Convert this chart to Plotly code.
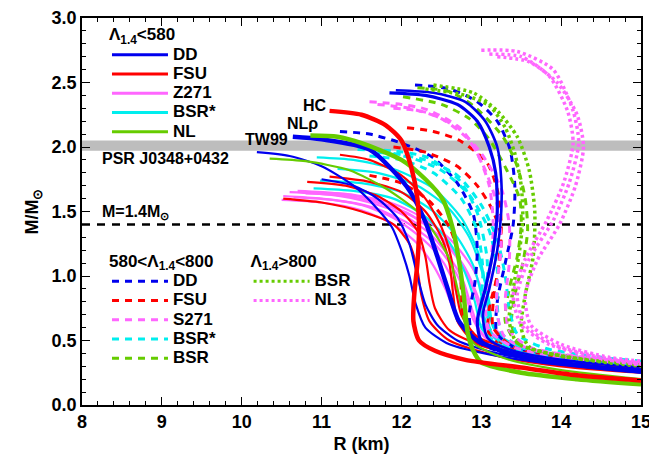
import plotly.graph_objects as go

# ---------------- data: (R [km], M [Msun]) ----------------
# Lambda_1.4 < 580  (solid lines)
DD_TW99 = ([10.64, 11.0, 11.6, 12.07, 12.3, 12.45, 12.58, 12.72, 12.95, 13.5, 14.2, 15.0],
           [2.08, 2.06, 1.98, 1.69, 1.42, 1.15, 0.9, 0.65, 0.5, 0.38, 0.31, 0.26])
DD_s2 = ([10.19, 10.6, 11.0, 11.4, 11.7, 11.88, 12.0, 12.1, 12.18, 12.3, 12.6, 13.2, 14.0, 15.0],
         [1.96, 1.93, 1.85, 1.7, 1.52, 1.38, 1.2, 1.0, 0.78, 0.6, 0.47, 0.38, 0.31, 0.25])
DD_s3 = ([11.0, 11.4, 11.7, 11.95, 12.1, 12.2, 12.3, 12.45, 12.7, 13.2, 14.0, 15.0],
         [1.75, 1.7, 1.6, 1.45, 1.25, 1.0, 0.78, 0.62, 0.5, 0.4, 0.32, 0.26])
DD_s4 = ([11.85, 12.3, 12.7, 12.95, 13.1, 13.18, 13.2, 13.15, 13.05, 12.95, 13.0, 13.3, 14.0, 15.0],
         [2.42, 2.4, 2.33, 2.2, 2.0, 1.8, 1.5, 1.2, 0.9, 0.65, 0.5, 0.4, 0.32, 0.27])
DD_s5 = ([11.93, 12.4, 12.8, 13.05, 13.2, 13.25, 13.25, 13.2, 13.1, 13.02, 13.08, 13.4, 14.0, 15.0],
         [2.44, 2.42, 2.35, 2.2, 2.0, 1.75, 1.5, 1.2, 0.9, 0.7, 0.52, 0.42, 0.35, 0.29])

FSU_HC = ([11.1, 11.5, 11.8, 12.0, 12.12, 12.2, 12.22, 12.2, 12.16, 12.15, 12.22, 12.42, 12.8, 13.5, 14.2, 15.0],
          [2.28, 2.25, 2.17, 2.05, 1.85, 1.6, 1.35, 1.1, 0.85, 0.65, 0.5, 0.42, 0.35, 0.29, 0.23, 0.19])
FSU_s2 = ([10.52, 11.0, 11.5, 11.9, 12.1, 12.2, 12.25, 12.35, 12.6, 13.2, 14.0, 15.0],
          [1.6, 1.57, 1.5, 1.4, 1.25, 1.05, 0.85, 0.65, 0.5, 0.38, 0.3, 0.25])
FSU_s3 = ([10.82, 11.3, 11.7, 12.0, 12.2, 12.3, 12.35, 12.42, 12.6, 13.0, 13.8, 15.0],
          [1.73, 1.7, 1.62, 1.5, 1.35, 1.15, 0.95, 0.75, 0.58, 0.46, 0.36, 0.28])
FSU_s4 = ([11.1, 11.6, 12.0, 12.3, 12.5, 12.6, 12.65, 12.7, 12.9, 13.5, 15.0],
          [1.77, 1.73, 1.65, 1.5, 1.3, 1.1, 0.85, 0.65, 0.5, 0.4, 0.3])
FSU_s5 = ([11.23, 11.6, 12.0, 12.3, 12.5, 12.62, 12.68, 12.75, 12.95, 13.5, 15.0],
          [1.94, 1.9, 1.78, 1.6, 1.38, 1.15, 0.9, 0.7, 0.53, 0.42, 0.32])

Z271_1 = ([10.52, 11.0, 11.5, 11.9, 12.2, 12.45, 12.62, 12.72, 12.82, 13.0, 13.5, 14.3, 15.0],
          [1.62, 1.6, 1.55, 1.45, 1.32, 1.17, 1.0, 0.8, 0.62, 0.48, 0.38, 0.31, 0.27])
Z271_2 = ([10.6, 11.1, 11.6, 12.0, 12.35, 12.6, 12.78, 12.88, 12.98, 13.2, 13.8, 15.0],
          [1.65, 1.63, 1.57, 1.48, 1.33, 1.15, 0.95, 0.75, 0.58, 0.46, 0.37, 0.29])
Z271_3 = ([10.7, 11.2, 11.7, 12.1, 12.45, 12.72, 12.9, 13.0, 13.12, 13.5, 14.3, 15.0],
          [1.66, 1.64, 1.58, 1.48, 1.32, 1.12, 0.9, 0.7, 0.54, 0.42, 0.35, 0.31])
Z271_4 = ([10.8, 11.3, 11.8, 12.2, 12.55, 12.8, 12.95, 13.05, 13.2, 13.6, 15.0],
          [1.64, 1.62, 1.55, 1.44, 1.27, 1.06, 0.85, 0.66, 0.51, 0.41, 0.32])
Z271_5 = ([10.5, 11.0, 11.5, 11.9, 12.2, 12.4, 12.55, 12.68, 12.85, 13.3, 14.2, 15.0],
          [1.59, 1.57, 1.51, 1.4, 1.25, 1.08, 0.9, 0.7, 0.54, 0.42, 0.33, 0.28])
Z271_6 = ([10.9, 11.4, 11.9, 12.3, 12.65, 12.9, 13.05, 13.15, 13.35, 13.9, 15.0],
          [1.65, 1.63, 1.56, 1.44, 1.26, 1.05, 0.82, 0.62, 0.48, 0.39, 0.33])
Z271_7 = ([10.65, 11.15, 11.65, 12.05, 12.4, 12.65, 12.8, 12.9, 13.05, 13.5, 15.0],
          [1.61, 1.59, 1.53, 1.42, 1.26, 1.06, 0.86, 0.66, 0.52, 0.41, 0.3])

BSRs_1 = ([10.94, 11.4, 11.9, 12.4, 12.75, 12.95, 13.05, 13.1, 13.2, 13.6, 14.3, 15.0],
          [1.92, 1.9, 1.83, 1.68, 1.45, 1.2, 0.95, 0.72, 0.55, 0.43, 0.35, 0.31])
BSRs_2 = ([10.98, 11.5, 12.0, 12.4, 12.7, 12.9, 13.0, 13.05, 13.2, 13.6, 14.3, 15.0],
          [1.74, 1.72, 1.65, 1.5, 1.3, 1.08, 0.85, 0.65, 0.5, 0.41, 0.34, 0.3])
BSRs_3 = ([10.9, 11.4, 11.9, 12.3, 12.6, 12.8, 12.92, 13.0, 13.2, 13.7, 15.0],
          [1.68, 1.66, 1.6, 1.46, 1.26, 1.02, 0.8, 0.6, 0.47, 0.38, 0.28])
BSRs_4 = ([11.2, 11.7, 12.2, 12.6, 12.85, 13.0, 13.1, 13.15, 13.4, 14.0, 15.0],
          [1.83, 1.8, 1.7, 1.52, 1.3, 1.05, 0.8, 0.6, 0.46, 0.38, 0.32])

NL_rho = ([10.86, 11.2, 11.5, 12.0, 12.3, 12.52, 12.65, 12.72, 12.78, 12.83, 12.9, 13.0, 13.5, 14.2, 15.0],
          [2.09, 2.08, 2.03, 1.9, 1.75, 1.59, 1.35, 1.12, 0.85, 0.56, 0.42, 0.33, 0.25, 0.2, 0.16])
NL_s2 = ([10.35, 10.8, 11.35, 11.8, 12.2, 12.45, 12.62, 12.72, 12.8, 12.9, 13.3, 14.0, 15.0],
         [1.91, 1.89, 1.82, 1.68, 1.5, 1.3, 1.1, 0.85, 0.62, 0.48, 0.36, 0.27, 0.2])

# 580 < Lambda_1.4 < 800  (dashed lines)
DD_d1 = ([11.23, 11.6, 12.0, 12.39, 12.7, 12.9, 12.95, 12.92, 12.85, 12.9, 13.2, 14.0, 15.0],
         [2.12, 2.1, 2.03, 1.92, 1.72, 1.48, 1.2, 0.95, 0.7, 0.52, 0.42, 0.34, 0.28])
DD_d2 = ([12.17, 12.6, 12.95, 13.2, 13.36, 13.42, 13.4, 13.3, 13.2, 13.2, 13.5, 14.2, 15.0],
         [2.48, 2.45, 2.35, 2.2, 1.98, 1.7, 1.4, 1.1, 0.8, 0.55, 0.42, 0.35, 0.3])

FSU_d1 = ([12.07, 12.4, 12.73, 13.07, 13.2, 13.25, 13.22, 13.15, 13.15, 13.4, 14.0, 15.0],
          [2.15, 2.12, 2.05, 1.88, 1.67, 1.4, 1.1, 0.8, 0.6, 0.45, 0.37, 0.3])
FSU_d2 = ([11.9, 12.3, 12.7, 12.95, 13.15, 13.25, 13.2, 13.1, 13.1, 13.4, 14.0, 15.0],
          [2.0, 1.96, 1.85, 1.7, 1.5, 1.3, 1.0, 0.75, 0.55, 0.42, 0.35, 0.29])
FSU_d3 = ([11.6, 12.0, 12.35, 12.6, 12.72, 12.75, 12.78, 12.95, 13.5, 15.0],
          [1.78, 1.72, 1.58, 1.38, 1.15, 0.9, 0.68, 0.52, 0.41, 0.3])

S271_d1 = ([11.6, 12.0, 12.32, 12.73, 12.95, 13.1, 13.15, 13.12, 13.05, 13.1, 13.4, 14.0, 15.0],
           [2.35, 2.33, 2.29, 2.15, 1.95, 1.7, 1.4, 1.1, 0.8, 0.58, 0.45, 0.37, 0.31])
S271_d2 = ([11.7, 12.1, 12.5, 12.85, 13.05, 13.2, 13.25, 13.2, 13.2, 13.3, 13.7, 15.0],
           [2.33, 2.3, 2.22, 2.05, 1.82, 1.55, 1.25, 0.95, 0.7, 0.52, 0.42, 0.32])
S271_d3 = ([11.9, 12.3, 12.7, 13.0, 13.25, 13.35, 13.35, 13.3, 13.35, 13.6, 14.3, 15.0],
           [2.3, 2.27, 2.15, 1.95, 1.68, 1.4, 1.1, 0.8, 0.58, 0.45, 0.37, 0.33])

BSRs_d1 = ([11.45, 11.9, 12.32, 12.73, 12.95, 13.07, 13.08, 13.1, 13.3, 14.0, 15.0],
           [1.98, 1.97, 1.92, 1.74, 1.49, 1.15, 0.85, 0.6, 0.46, 0.36, 0.3])
BSRs_d2 = ([11.7, 12.1, 12.5, 12.86, 13.1, 13.2, 13.2, 13.25, 13.5, 14.2, 15.0],
           [1.96, 1.92, 1.82, 1.62, 1.35, 1.05, 0.78, 0.56, 0.45, 0.37, 0.32])
BSRs_d3 = ([11.9, 12.3, 12.7, 13.0, 13.2, 13.3, 13.35, 13.45, 13.8, 14.5, 15.0],
           [1.95, 1.9, 1.78, 1.55, 1.28, 1.0, 0.75, 0.55, 0.44, 0.37, 0.34])
BSRs_d4 = ([11.6, 12.0, 12.4, 12.75, 12.95, 13.02, 13.0, 13.05, 13.3, 14.0, 15.0],
           [1.93, 1.9, 1.8, 1.6, 1.35, 1.05, 0.78, 0.56, 0.44, 0.35, 0.3])

BSR_d1 = ([12.02, 12.5, 12.85, 13.1, 13.32, 13.48, 13.5, 13.45, 13.35, 13.3, 13.45, 14.0, 15.0],
          [2.39, 2.33, 2.22, 2.06, 1.82, 1.6, 1.4, 1.15, 0.9, 0.65, 0.48, 0.38, 0.3])
BSR_d2 = ([12.2, 12.6, 12.9, 13.27, 13.45, 13.55, 13.58, 13.52, 13.42, 13.38, 13.5, 14.1, 15.0],
          [2.46, 2.43, 2.32, 2.08, 1.85, 1.6, 1.35, 1.1, 0.85, 0.62, 0.47, 0.38, 0.31])

# Lambda_1.4 > 800  (dotted lines)
BSR_o1 = ([12.4, 12.9, 13.2, 13.45, 13.6, 13.67, 13.65, 13.55, 13.5, 13.6, 14.2, 15.0],
          [2.48, 2.42, 2.28, 2.08, 1.82, 1.5, 1.15, 0.85, 0.6, 0.45, 0.36, 0.3])
BSR_o2 = ([12.3, 12.8, 13.1, 13.3, 13.42, 13.5, 13.52, 13.48, 13.4, 13.35, 13.45, 14.0, 15.0],
          [2.45, 2.4, 2.32, 2.15, 1.95, 1.7, 1.45, 1.2, 0.9, 0.65, 0.48, 0.38, 0.31])

NL3_o1 = ([13.0, 13.45, 13.9, 14.15, 14.22, 14.1, 13.9, 13.6, 13.45, 13.55, 13.9, 14.5, 15.0],
          [2.75, 2.74, 2.6, 2.28, 2.03, 1.72, 1.43, 1.13, 0.85, 0.62, 0.47, 0.37, 0.32])
NL3_o2 = ([13.1, 13.5, 13.85, 14.08, 14.15, 14.03, 13.82, 13.55, 13.4, 13.5, 13.85, 14.5, 15.0],
          [2.72, 2.7, 2.55, 2.28, 2.03, 1.72, 1.43, 1.13, 0.85, 0.62, 0.47, 0.36, 0.31])
NL3_o3 = ([13.2, 13.6, 13.95, 14.2, 14.28, 14.18, 13.98, 13.7, 13.55, 13.62, 14.0, 14.6, 15.0],
          [2.7, 2.66, 2.5, 2.25, 2.0, 1.7, 1.4, 1.12, 0.85, 0.62, 0.47, 0.37, 0.34])

PSR_M, PSR_ERR = 2.01, 0.04
M_CANON = 1.4

# ---------------- styling ----------------
BLUE, RED, MAG, CYAN, GREEN = "#0000ee", "#ff0000", "#ff66ff", "#00eeee", "#66cc00"
FONT = "Liberation Sans, Arial, sans-serif"
DASH, DOT = "7px,6px", "3px,3px"

fig = go.Figure()

def add(curve, color, dash, width):
    R, M = curve
    fig.add_trace(go.Scatter(
        x=R, y=M, mode="lines",
        line=dict(color=color, width=width, dash=dash, shape="spline", smoothing=0.7),
        showlegend=False, hoverinfo="skip"))

# solid, thin
for c in [Z271_1, Z271_2, Z271_3, Z271_4, Z271_5, Z271_6, Z271_7]:
    add(c, MAG, "solid", 2.2)
for c in [BSRs_1, BSRs_2, BSRs_3, BSRs_4]:
    add(c, CYAN, "solid", 2.2)
for c in [FSU_s2, FSU_s3, FSU_s4, FSU_s5]:
    add(c, RED, "solid", 2.2)
for c in [DD_s2, DD_s3]:
    add(c, BLUE, "solid", 2.2)
add(NL_s2, GREEN, "solid", 2.2)
# dashed
for c in [DD_d1, DD_d2]:
    add(c, BLUE, DASH, 3)
for c in [FSU_d1, FSU_d2, FSU_d3]:
    add(c, RED, DASH, 3)
for c in [BSR_d1, BSR_d2]:
    add(c, GREEN, DASH, 3)
for c in [BSRs_d1, BSRs_d2, BSRs_d3, BSRs_d4]:
    add(c, CYAN, DASH, 3)
for c in [S271_d1, S271_d2, S271_d3]:
    add(c, MAG, DASH, 3)
# thicker named ones
add(DD_s4, BLUE, "solid", 3.2)
add(DD_s5, BLUE, "solid", 2.6)
add(DD_TW99, BLUE, "solid", 4.5)
add(NL_rho, GREEN, "solid", 4.5)
add(FSU_HC, RED, "solid", 4.5)
# dotted
for c in [BSR_o1, BSR_o2]:
    add(c, GREEN, DOT, 3.5)
for c in [NL3_o1, NL3_o2, NL3_o3]:
    add(c, MAG, DOT, 3.5)

# legend entries (one per model family); large text in a span, small legend font keeps rows tight
def big(t):
    return '<span style="font-size:17px">' + t + '</span>'

leg = [("legend", "DD", BLUE, "solid"), ("legend", "FSU", RED, "solid"), ("legend", "Z271", MAG, "solid"),
       ("legend", "BSR*", CYAN, "solid"), ("legend", "NL", GREEN, "solid"),
       ("legend2", "DD", BLUE, DASH), ("legend2", "FSU", RED, DASH), ("legend2", "S271", MAG, DASH),
       ("legend2", "BSR*", CYAN, DASH), ("legend2", "BSR", GREEN, DASH),
       ("legend3", "BSR", GREEN, DOT), ("legend3", "NL3", MAG, DOT)]
for i, (lg, nm, col, ds) in enumerate(leg):
    fig.add_trace(go.Scatter(x=[None], y=[None], mode="lines", name=big(nm), legend=lg, legendrank=i,
                             line=dict(color=col, width=3, dash=ds), showlegend=True))

# PSR band and 1.4 line
fig.add_shape(type="rect", xref="x", yref="y", x0=8, x1=15, y0=PSR_M - PSR_ERR, y1=PSR_M + PSR_ERR,
              fillcolor="#bdbdbd", line_width=0, layer="below")
fig.add_shape(type="line", xref="x", yref="y", x0=8, x1=15, y0=M_CANON, y1=M_CANON,
              line=dict(color="black", width=2.5, dash="8px,7px"), layer="below")

afont = dict(family=FONT, size=16, color="black", weight="bold")
fig.add_annotation(x=11.09, y=2.32, text="HC", showarrow=False, xanchor="right", font=afont)
fig.add_annotation(x=10.98, y=2.18, text="NLρ", showarrow=False, xanchor="right", font=afont)
fig.add_annotation(x=10.6, y=2.06, text="TW99", showarrow=False, xanchor="right", font=afont)
fig.add_annotation(x=8.22, y=1.91, text="PSR J0348+0432", showarrow=False, xanchor="left", font=afont)
fig.add_annotation(x=8.22, y=1.49, text="M=1.4M<sub>⊙</sub>", showarrow=False, xanchor="left", font=afont)

lfont = dict(family=FONT, size=12.5, color="black", weight="bold")
tfont2 = dict(family=FONT, size=18.5, color="black", weight="bold")
common = dict(bgcolor="rgba(0,0,0,0)", borderwidth=0, font=lfont, itemwidth=56, xanchor="left",
              yanchor="top", tracegroupgap=0, itemclick=False, itemdoubleclick=False)

axis_common = dict(showline=True, linecolor="black", linewidth=1.5, mirror="allticks", ticks="inside",
                   ticklen=8, tickwidth=1.3, tickcolor="black", showgrid=False, zeroline=False,
                   automargin=False,
                   tickfont=dict(family=FONT, size=18, color="black", weight="bold"))

# the page body adds an 8px margin, so the figure is 8px smaller and margins shifted
fig.update_layout(
    width=649, height=455, margin=dict(l=74, r=16, t=10, b=58),
    plot_bgcolor="white", paper_bgcolor="white",
    font=dict(family=FONT, color="black"),
    xaxis=dict(range=[8, 15], dtick=1, title=dict(text="R (km)", standoff=6,
               font=dict(family=FONT, size=18, color="black", weight="bold")),
               minor=dict(ticks="inside", dtick=0.2, ticklen=4, tickcolor="black"), **axis_common),
    yaxis=dict(range=[0, 3], dtick=0.5, tickformat=".1f", title=dict(text="M/M<sub>⊙</sub>", standoff=8,
               font=dict(family=FONT, size=18, color="black", weight="bold")),
               minor=dict(ticks="inside", dtick=0.1, ticklen=4, tickcolor="black"), **axis_common),
    legend=dict(x=0.0447, y=0.985, title=dict(text=big("Λ<sub>1.4</sub>&lt;580"), font=lfont), **common),
    legend2=dict(x=0.0447, y=0.42, title=dict(text=big("580&lt;Λ<sub>1.4</sub>&lt;800"), font=tfont2), **common),
    legend3=dict(x=0.298, y=0.42, title=dict(text=big("Λ<sub>1.4</sub>&gt;800"), font=tfont2), **common),
)

fig.write_html("out.html")
